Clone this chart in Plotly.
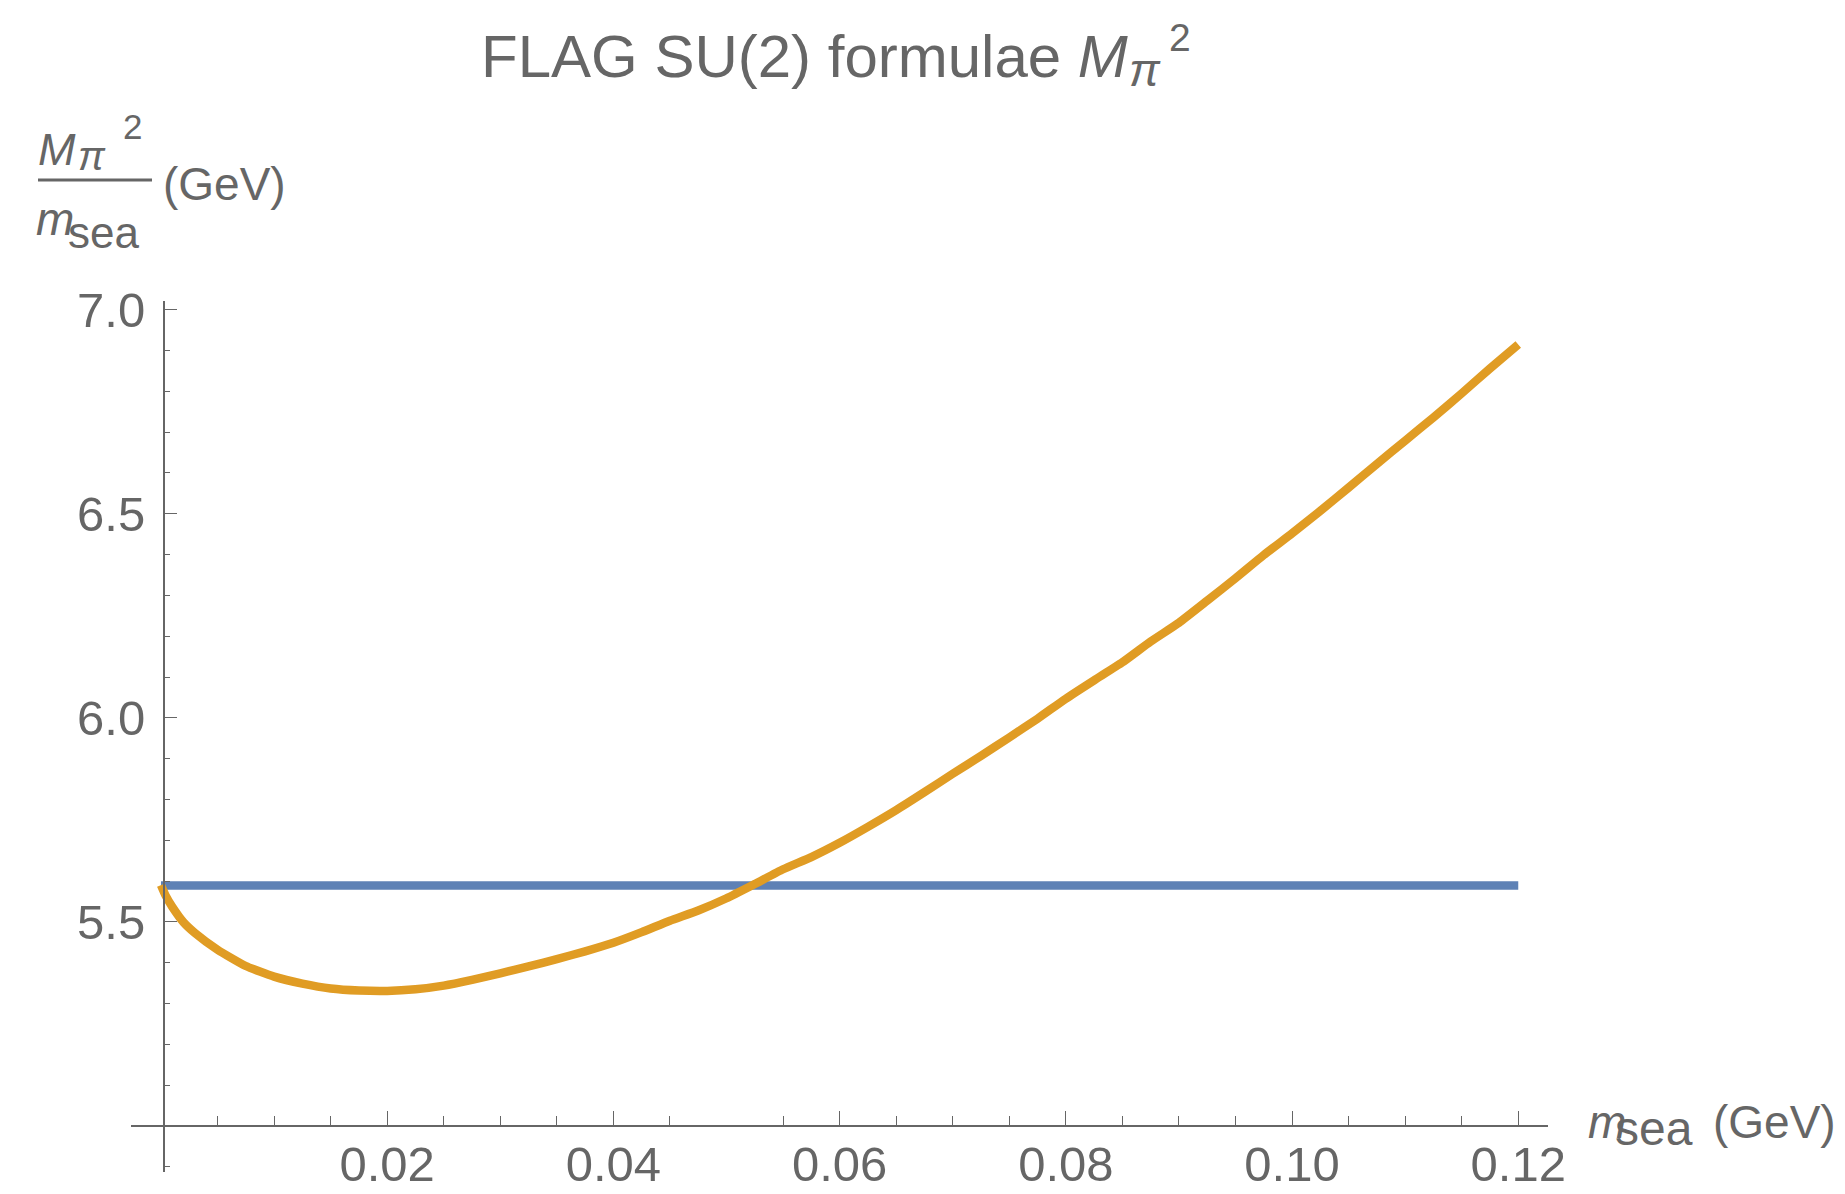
import plotly.graph_objects as go

# ---- data -------------------------------------------------------------
m_sea = [0, 0.0004, 0.001, 0.002, 0.003, 0.005, 0.0075, 0.01, 0.0125, 0.015,
         0.0175, 0.02, 0.0225, 0.025, 0.0275, 0.03, 0.0325, 0.035, 0.0375,
         0.04, 0.0425, 0.045, 0.0475, 0.05, 0.0525, 0.055, 0.0575, 0.06,
         0.0625, 0.065, 0.0675, 0.07, 0.0725, 0.075, 0.0775, 0.08, 0.0825,
         0.085, 0.0875, 0.09, 0.0925, 0.095, 0.0975, 0.1, 0.1025, 0.105,
         0.1075, 0.11, 0.1125, 0.115, 0.1175, 0.12]
ratio_nlo = [5.590, 5.565, 5.537, 5.499, 5.473, 5.432, 5.392, 5.366, 5.349,
             5.337, 5.332, 5.331, 5.335, 5.344, 5.358, 5.374, 5.391, 5.409,
             5.428, 5.449, 5.475, 5.503, 5.528, 5.558, 5.593, 5.629, 5.659,
             5.694, 5.733, 5.774, 5.818, 5.863, 5.907, 5.952, 5.998, 6.047,
             6.092, 6.136, 6.187, 6.233, 6.287, 6.342, 6.399, 6.452, 6.507,
             6.564, 6.622, 6.679, 6.736, 6.795, 6.856, 6.915]

lo_x = [0, 0.12]
lo_y = [5.589, 5.589]

x_major = [0.02, 0.04, 0.06, 0.08, 0.10, 0.12]
x_major_text = ["0.02", "0.04", "0.06", "0.08", "0.10", "0.12"]
x_minor = [0.005, 0.01, 0.015, 0.025, 0.03, 0.035, 0.045, 0.055, 0.065,
           0.07, 0.075, 0.085, 0.09, 0.095, 0.105, 0.11, 0.115]
y_major = [5.5, 6.0, 6.5, 7.0]
y_major_text = ["5.5", "6.0", "6.5", "7.0"]
y_minor = [4.9, 5.1, 5.2, 5.3, 5.4, 5.6, 5.7, 5.8, 5.9, 6.1, 6.2, 6.3, 6.4,
           6.6, 6.7, 6.8, 6.9]

# ---- geometry ---------------------------------------------------------
FIG_W, FIG_H = 1845, 1194
L, R, T, B = 131, 1548, 301, 1172
W, H = R - L, B - T
X_RANGE = [-0.00265, 0.12263]
Y_RANGE = [4.8873, 7.0213]
GRAY = "#666666"
FONT = "Liberation Sans, Arial, Helvetica, sans-serif"
BLUE = "#5E81B5"
ORANGE = "#E09C24"


def px(xp):
    return (xp - L) / W


def py(yp):
    return (B - yp) / H


fig = go.Figure()
fig.add_trace(go.Scatter(x=lo_x, y=lo_y, mode="lines",
                         line=dict(color=BLUE, width=8.5), showlegend=False))
fig.add_trace(go.Scatter(x=m_sea, y=ratio_nlo, mode="lines",
                         line=dict(color=ORANGE, width=8.5, shape="spline",
                                   smoothing=0.5), showlegend=False))

# axes cross at (0, 5.0)
x_axis_pos = (5.0 - Y_RANGE[0]) / (Y_RANGE[1] - Y_RANGE[0])
y_axis_pos = (0.00025 - X_RANGE[0]) / (X_RANGE[1] - X_RANGE[0])

fig.update_layout(
    width=FIG_W, height=FIG_H, autosize=False,
    margin=dict(l=L, r=FIG_W - R, t=T, b=FIG_H - B, pad=0),
    paper_bgcolor="white", plot_bgcolor="white",
    font=dict(family=FONT, color=GRAY),
    xaxis=dict(range=X_RANGE, domain=[0, 1], anchor="free",
               position=x_axis_pos, automargin=False,
               showgrid=False, zeroline=False,
               showline=True, linecolor=GRAY, linewidth=1.6,
               ticks="inside", ticklen=14, tickwidth=1.4, tickcolor=GRAY,
               tickmode="array", tickvals=x_major, ticktext=x_major_text,
               tickfont=dict(family=FONT, size=49, color=GRAY),
               ticklabelstandoff=-5,
               minor=dict(tickmode="array", tickvals=x_minor, ticks="inside",
                          ticklen=9, tickwidth=1.3, tickcolor=GRAY)),
    yaxis=dict(range=Y_RANGE, domain=[0, 1], anchor="free",
               position=y_axis_pos, automargin=False,
               showgrid=False, zeroline=False,
               showline=True, linecolor=GRAY, linewidth=1.6,
               ticks="inside", ticklen=12, tickwidth=1.4, tickcolor=GRAY,
               tickmode="array", tickvals=y_major, ticktext=y_major_text,
               tickfont=dict(family=FONT, size=49, color=GRAY),
               ticklabelstandoff=8,
               minor=dict(tickmode="array", tickvals=y_minor, ticks="inside",
                          ticklen=5, tickwidth=1.3, tickcolor=GRAY)),
)


def label(text, x_left, baseline, size, italic=False):
    """Place a text piece by its left edge and baseline (pixels)."""
    fig.add_annotation(
        text=f"<i>{text}</i>" if italic else text,
        xref="paper", yref="paper", x=px(x_left), y=py(baseline - 0.4 * size),
        xanchor="left", yanchor="middle", showarrow=False,
        font=dict(family=FONT, size=size, color=GRAY))


# title: FLAG SU(2) formulae M_pi^2
label("FLAG SU(2) formulae <i>M</i>", 479, 81, 60)
label("π", 1127, 88, 46, italic=True)
label("2", 1167, 53, 39)

# vertical-axis label: M_pi^2 / m_sea (GeV)
label("M", 36, 167, 45, italic=True)
label("π", 76, 172, 40, italic=True)
label("2", 121, 140, 35)
fig.add_shape(type="line", xref="paper", yref="paper",
              x0=px(38), x1=px(152), y0=py(180), y1=py(180),
              line=dict(color=GRAY, width=3))
label("m", 34, 237, 46, italic=True)
label("sea", 66, 250, 44)
label("(GeV)", 161, 202, 46)

# horizontal-axis label: m_sea (GeV)
label("m", 1586, 1140, 46, italic=True)
label("sea", 1613, 1148, 48)
label("(GeV)", 1711, 1140, 46)

fig.write_html("out.html")
